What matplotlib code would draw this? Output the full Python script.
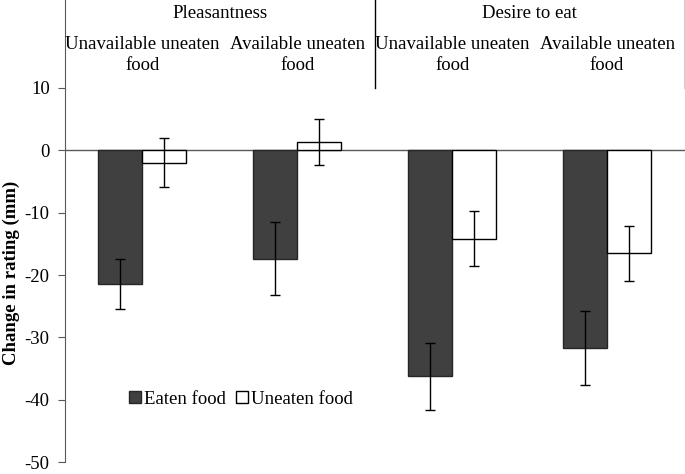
import numpy as np
import matplotlib
matplotlib.use("Agg")
import matplotlib.pyplot as plt

plt.rcParams['font.family'] = ['Liberation Serif', 'DejaVu Serif']

# Data
measures = ["Pleasantness", "Desire to eat"]
conditions = ["Unavailable uneaten\nfood", "Available uneaten\nfood",
              "Unavailable uneaten\nfood", "Available uneaten\nfood"]
eaten = [-21.45, -17.4, -36.2, -31.7]
eaten_err = [4.05, 5.85, 5.35, 5.9]
uneaten = [-2.0, 1.3, -14.2, -16.55]
uneaten_err = [3.95, 3.65, 4.4, 4.4]
yticks = [10, 0, -10, -20, -30, -40, -50]

fig = plt.figure(figsize=(6.85, 4.74), dpi=100)
ax = fig.add_axes([65 / 685, 11.7 / 474, 619.5 / 685, 462.3 / 474])

x = np.arange(len(conditions))
w = 0.284
axcol = "#595959"
ax.bar(x - w / 2, eaten, w, color="#404040", edgecolor="#262626", linewidth=1,
       yerr=eaten_err, error_kw=dict(ecolor="black", elinewidth=1, capsize=3.5, capthick=1),
       label="Eaten food", zorder=2)
ax.bar(x + w / 2, uneaten, w, color="white", edgecolor="black", linewidth=1,
       yerr=uneaten_err, error_kw=dict(ecolor="black", elinewidth=1, capsize=3.5, capthick=1),
       label="Uneaten food", zorder=2)

ax.axhline(0, color=axcol, linewidth=1, zorder=1)
ax.set_xlim(-0.5, 3.5)
ax.set_ylim(-50, 24.05)
ax.set_yticks(yticks)
ax.set_yticklabels([str(t) for t in yticks], fontsize=13.5)
ax.set_xticks([])
ax.tick_params(axis="y", direction="out", length=5, color=axcol, pad=6)
for s in ["top", "right", "bottom"]:
    ax.spines[s].set_visible(False)
ax.spines["left"].set_color(axcol)

# header separators
for xs in [1.5, 3.5]:
    ax.plot([xs, xs], [10, 24.05], color="black", linewidth=1, clip_on=False)

# header labels
ax.text(0.5, 21.9, measures[0], ha="center", va="center", fontsize=13.5)
ax.text(2.5, 21.9, measures[1], ha="center", va="center", fontsize=13.5)
for i, c in enumerate(conditions):
    ax.text(i, 15.3, c, ha="center", va="center", fontsize=13.5, linespacing=1.3)

ax.set_ylabel("Change in rating (mm)", fontsize=13.5, fontweight="bold")
ax.yaxis.set_label_coords(-0.072, 0.41)

ax.legend(loc="center left", bbox_to_anchor=(0.092, (462.3 - 399) / 462.3), ncol=2, frameon=False,
          fontsize=13.5, handlelength=0.62, handleheight=0.62, handletextpad=0.15,
          columnspacing=0.55, borderaxespad=0)

fig.savefig("out.png", dpi=100)
